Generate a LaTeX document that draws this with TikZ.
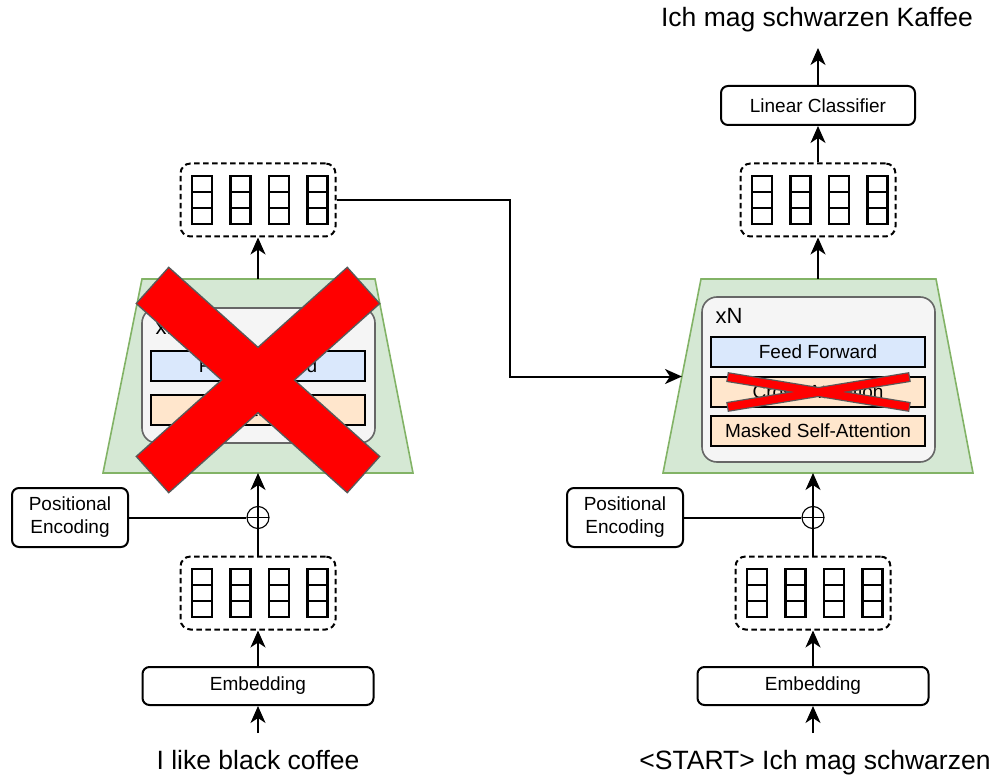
\documentclass[tikz,border=0pt]{standalone}
\usepackage{fontspec}
\setmainfont{Liberation Sans}
\usetikzlibrary{arrows.meta}

\definecolor{trapfill}{HTML}{D5E8D4}
\definecolor{trapline}{HTML}{82B366}
\definecolor{stackfill}{HTML}{F5F5F5}
\definecolor{stackline}{HTML}{666666}
\definecolor{ffwdfill}{HTML}{DAE8FC}
\definecolor{attnfill}{HTML}{FFE6CC}
\definecolor{crossline}{HTML}{595959}

\begin{document}
\begin{tikzpicture}[x=1pt,y=-1pt,>={Stealth[length=17pt,width=15pt,inset=5pt]},
    line width=2pt,
    block/.style={draw,rounded corners=7pt,align=center,inner sep=0pt,
        font=\fontsize{19}{23}\selectfont},
    vecbox/.style={draw,dash pattern=on 5.5pt off 3.5pt,rounded corners=10pt,
        minimum width=155pt,minimum height=73pt},
    cell/.style={draw,minimum width=20pt,minimum height=16pt,inner sep=0pt,line width=2.2pt},
    stack/.style={draw=stackline,fill=stackfill,rounded corners=15pt,
        line width=1.6pt,minimum width=233pt},
    layer/.style={draw,minimum width=214pt,minimum height=30pt,inner sep=0pt,
        font=\fontsize{19}{23}\selectfont},
    sumnode/.style={circle,draw,line width=1.1pt,fill=white,minimum size=22pt,
        inner sep=0pt,path picture={
            \draw[line width=1.1pt]
                (path picture bounding box.north) -- (path picture bounding box.south)
                (path picture bounding box.west) -- (path picture bounding box.east);}},
    words/.style={anchor=base,font=\fontsize{26.5}{30}\selectfont},
    trap/.style={fill=trapfill,draw=trapline,line width=1.6pt}]

    \useasboundingbox (0,0) rectangle (999,778);

    % encoder block
    \draw[trap] (142,279) -- (375,279) -- (413,473) -- (103,473) -- cycle;
    \node[stack,minimum height=135pt] (encstack) at (258.5,375.5) {};
    \node[anchor=west,xshift=10pt,yshift=-20pt,font=\fontsize{22}{26}\selectfont]
        (encxn) at (encstack.north west) {xN};
    \node[layer,fill=ffwdfill] (encffwd) at (258,365.5) {Feed Forward};
    \node[layer,fill=attnfill] (encattn) at (258,410) {Self-Attention};
    \coordinate (enctrapin) at (258,473);
    \coordinate (enctrapout) at (258,279);

    % decoder block
    \draw[trap] (701,279) -- (936,279) -- (973,473) -- (663,473) -- cycle;
    \node[stack,minimum height=165pt] (decstack) at (818.5,379.5) {};
    \node[anchor=west,xshift=10pt,yshift=-20pt,font=\fontsize{22}{26}\selectfont]
        (decxn) at (decstack.north west) {xN};
    \node[layer,fill=ffwdfill] (decffwd) at (818,352) {Feed Forward};
    \node[layer,fill=attnfill] (deccross) at (818,392) {Cross-Attention};
    \node[layer,fill=attnfill] (decmasked) at (818,431) {Masked Self-Attention};
    \coordinate (dectrapin) at (813,473);
    \coordinate (dectrapout) at (818,279);
    \coordinate (decside) at (682,376.5);

    % vectors
    \foreach \nm/\cx/\cy in {encemb/258/593, encout/258/200, decemb/813/593, decout/818/200} {
        \node[vecbox] (\nm) at (\cx,\cy) {};
        \foreach \i in {0,...,3}
            \foreach \j in {-1,0,1}
                \node[cell] at (\cx-56+\i*38.5,\cy+\j*16) {};
    }

    % inputs
    \node[words] (encintext) at (258,769) {I like black coffee};
    \node[words] (decintext) at (815,769) {<START> Ich mag schwarzen};
    \coordinate (encsrc) at (258,733);
    \coordinate (decsrc) at (813,733);

    \node[block,minimum width=231pt,minimum height=38pt] (enctok) at (258,686) {Embedding};
    \node[block,minimum width=231pt,minimum height=38pt] (dectok) at (813,686) {Embedding};

    \node[block,minimum width=116pt,minimum height=59pt] (encpos) at (70,517.5) {Positional\\Encoding};
    \node[block,minimum width=116pt,minimum height=59pt] (decpos) at (625,517.5) {Positional\\Encoding};

    \node[sumnode] (encsum) at (258,517.5) {};
    \node[sumnode] (decsum) at (813,517.5) {};

    % output
    \node[block,minimum width=194pt,minimum height=39pt] (declin) at (818,105.5) {Linear Classifier};
    \node[words] (decouttext) at (817,27) {Ich mag schwarzen Kaffee};
    \coordinate (dectop) at (818,48);

    % connectors
    \draw[->] (encsrc) -- (enctok);
    \draw[->] (enctok) -- (encemb);
    \draw (encemb) -- (encsum);
    \draw (encpos) -- (encsum);
    \draw[->] (encsum) -- (enctrapin);
    \draw[->] (enctrapout) -- (encout);
    \draw[->] (encout.east) -- ++(173.5,0) |- (decside);

    \draw[->] (decsrc) -- (dectok);
    \draw[->] (dectok) -- (decemb);
    \draw (decemb) -- (decsum);
    \draw (decpos) -- (decsum);
    \draw[->] (decsum) -- (dectrapin);
    \draw[->] (dectrapout) -- (decout);
    \draw[->] (decout) -- (declin);
    \draw[->] (declin) -- (dectop);

    % crossed out
    \draw[line width=50pt,crossline] (152,285) -- (364,475);
    \draw[line width=50pt,crossline] (364,285) -- (152,475);
    \draw[line width=47pt,red,shorten <=1.5pt,shorten >=1.5pt] (152,285) -- (364,475);
    \draw[line width=47pt,red,shorten <=1.5pt,shorten >=1.5pt] (364,285) -- (152,475);

    \draw[line width=10pt,crossline] (727,377) -- (910,407);
    \draw[line width=10pt,crossline] (727,407) -- (910,377);
    \draw[line width=7.6pt,red,shorten <=1.2pt,shorten >=1.2pt] (727,377) -- (910,407);
    \draw[line width=7.6pt,red,shorten <=1.2pt,shorten >=1.2pt] (727,407) -- (910,377);

\end{tikzpicture}
\end{document}
